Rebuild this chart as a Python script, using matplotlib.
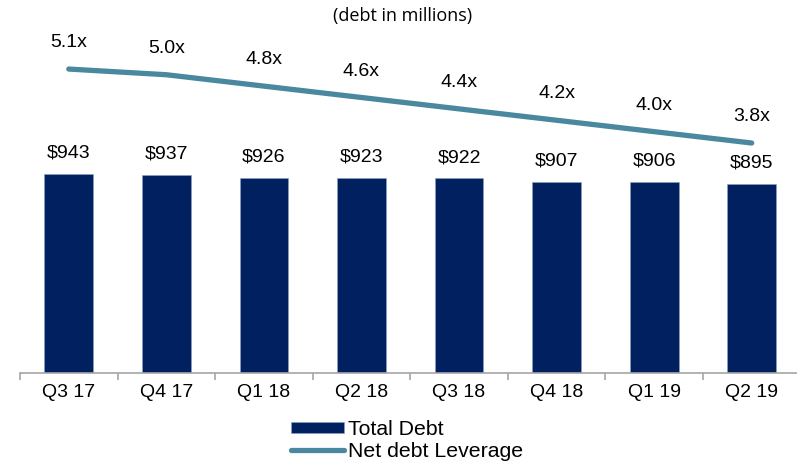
import matplotlib.pyplot as plt
import numpy as np
plt.rcParams["font.family"] = ["Liberation Sans", "DejaVu Sans"]

# ===============================
quarters = ['Q3 17', 'Q4 17', 'Q1 18', 'Q2 18', 'Q3 18', 'Q4 18', 'Q1 19', 'Q2 19']
total_debt = [943, 937, 926, 923, 922, 907, 906, 895]
leverage = [5.1, 5.0, 4.8, 4.6, 4.4, 4.2, 4.0, 3.8]

bar_color = '#002060'
line_color = '#4A889F'

# ===============================
fig = plt.figure(figsize=(7.97, 4.63), dpi=100)
ax = fig.add_axes([20 / 797, 90 / 463, 780.5 / 797, 353 / 463])
x = np.arange(len(quarters))

bars = ax.bar(x, total_debt, width=0.5, color=bar_color, edgecolor='#8FA0C0',
              linewidth=0.4, label='Total Debt', zorder=2)
ax.set_ylim(0, 1673)
ax.set_xlim(-0.5, len(quarters) - 0.5)

for xi, v in zip(x, total_debt):
    ax.annotate(f'${v}', (xi, v), xytext=(0, 15), textcoords='offset points',
                ha='center', va='center', fontsize=14)

ax2 = ax.twinx()
line, = ax2.plot(x, leverage, color=line_color, lw=3.8, solid_capstyle='round',
                 label='Net debt Leverage', zorder=3)
ax2.set_ylim(-0.242, 5.962)
for xi, v in zip(x, leverage):
    ax2.annotate(f'{v:.1f}x', (xi, v), xytext=(0, 19), textcoords='offset points',
                 ha='center', va='center', fontsize=14)

# axes styling
for a in (ax, ax2):
    for s in ['top', 'right', 'left']:
        a.spines[s].set_visible(False)
    a.set_yticks([])
ax2.spines['bottom'].set_visible(False)
ax.spines['bottom'].set_color('#A6A6A6')
ax.spines['bottom'].set_linewidth(1.2)

ax.set_xticks(x)
ax.set_xticklabels(quarters, fontsize=14)
ax.tick_params(axis='x', length=0, pad=8)
ax.set_xticks(np.arange(-0.5, len(quarters)), minor=True)
ax.tick_params(axis='x', which='minor', length=5, color='#A6A6A6', width=1.2)

fig.text(403 / 797, 1 - 16 / 463, '(debt in millions)', ha='center', va='center',
         fontsize=13, family=['Open Sans', 'DejaVu Sans'])

fig.legend(handles=[bars, line], loc='upper left',
           bbox_to_anchor=(291 / 797, 1 - 420 / 463), frameon=False,
           fontsize=15.3, handlelength=2.5, handleheight=0.45, handletextpad=0.2,
           labelspacing=0.12, borderpad=0, borderaxespad=0)

fig.savefig('out.png', dpi=100)
